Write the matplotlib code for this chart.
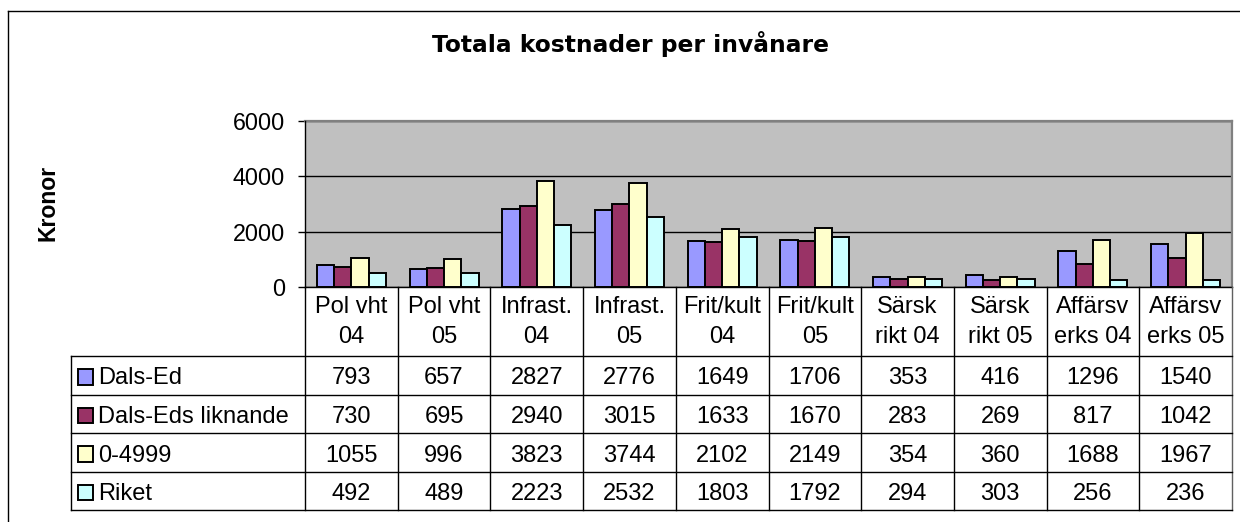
import matplotlib
matplotlib.use("Agg")
import matplotlib.pyplot as plt
import numpy as np
from matplotlib.patches import Rectangle
from matplotlib.lines import Line2D

plt.rcParams['font.family'] = ['Liberation Sans', 'DejaVu Sans']

title = "Totala kostnader per invånare"
ylabel = "Kronor"
categories = ["Pol vht\n04", "Pol vht\n05", "Infrast.\n04", "Infrast.\n05",
              "Frit/kult\n04", "Frit/kult\n05", "Särsk\nrikt 04", "Särsk\nrikt 05",
              "Affärsv\nerks 04", "Affärsv\nerks 05"]
series_names = ["Dals-Ed", "Dals-Eds liknande", "0-4999", "Riket"]
dals_ed = [793, 657, 2827, 2776, 1649, 1706, 353, 416, 1296, 1540]
dals_eds_liknande = [730, 695, 2940, 3015, 1633, 1670, 283, 269, 817, 1042]
kommuner_0_4999 = [1055, 996, 3823, 3744, 2102, 2149, 354, 360, 1688, 1967]
riket = [492, 489, 2223, 2532, 1803, 1792, 294, 303, 256, 236]
yticks = [0, 2000, 4000, 6000]

series = [dals_ed, dals_eds_liknande, kommuner_0_4999, riket]
colors = ['#9999FF', '#993366', '#FFFFCC', '#CCFFFF']

W, H = 1240, 522
fig = plt.figure(figsize=(W / 100, H / 100), dpi=100)
fig.patch.set_facecolor('white')

def fx(p):
    return p / W

def fy(p):
    return 1 - p / H

# plot area
PL, PR, PT, PB = 305, 1232, 121, 287
ax = fig.add_axes([fx(PL), fy(PB), (PR - PL) / W, (PB - PT) / H])
n = len(categories)
ax.set_xlim(-0.5, n - 0.5)
ax.set_ylim(0, 6000)
ax.set_facecolor('#C0C0C0')
x = np.arange(n)
w = 0.186
for j, (vals, col) in enumerate(zip(series, colors)):
    ax.bar(x + (j - 1.5) * w, vals, w, color=col, edgecolor='black',
           linewidth=1.4, zorder=3)
ax.set_yticks(yticks)
ax.set_yticklabels([str(t) for t in yticks])
ax.set_xticks([])
ax.yaxis.grid(True, color='black', linewidth=1.0)
ax.set_axisbelow(True)
ax.tick_params(axis='y', direction='out', length=5, width=1, labelsize=16.8,
               pad=9.4, colors='black')
for s in ['top', 'right']:
    ax.spines[s].set_color('#808080')
    ax.spines[s].set_linewidth(1.6)
for s in ['left', 'bottom']:
    ax.spines[s].set_color('black')
    ax.spines[s].set_linewidth(1.0)
    ax.spines[s].set_zorder(5)

# data table
TL, TB = 71, 510
u = (PR - PL) / n  # pixels per category
left_units = -0.5 - (PL - TL) / u
tax = fig.add_axes([fx(TL), fy(TB), (PR - TL) / W, (TB - PB) / H])
tax.set_xlim(left_units, n - 0.5)
tab_h = TB - PB
tax.set_ylim(tab_h, 0)
tax.axis('off')
header_h = 69
row_h = (tab_h - header_h) / len(series)
lc = 'black'
lw = 1.0
for i in range(n + 1):
    xe = i - 0.5
    tax.add_line(Line2D([xe, xe], [0, tab_h], color=('#606060' if i == n else lc),
                        lw=lw, clip_on=False))
tax.add_line(Line2D([left_units, left_units], [header_h, tab_h], color=lc, lw=lw, clip_on=False))
for k in range(len(series) + 1):
    yy = header_h + k * row_h
    tax.add_line(Line2D([left_units, n - 0.5], [yy, yy], color=lc, lw=lw, clip_on=False))

fs = 17.0
for i, cat in enumerate(categories):
    for l, line in enumerate(cat.split('\n')):
        tax.text(i, 26 + 30 * l, line, ha='center', va='baseline', fontsize=fs)

for k, (name, vals, col) in enumerate(zip(series_names, series, colors)):
    top = header_h + k * row_h
    tax.add_patch(Rectangle((left_units + 6.5 / u, top + 13), 15.5 / u, 15.5,
                            facecolor=col, edgecolor='black', lw=1.4, clip_on=False))
    tax.text(left_units + 27 / u, top + 28.5, name, ha='left', va='baseline', fontsize=fs)
    for i, v in enumerate(vals):
        tax.text(i, top + 28.5, str(v), ha='center', va='baseline', fontsize=fs)

# titles
fig.text(fx(631), fy(51.5), title, ha='center', va='baseline', fontsize=16.8,
         fontweight='bold', family='DejaVu Sans')
fig.text(fx(48), fy(203), ylabel, ha='center', va='center', fontsize=16.6,
         fontweight='bold', rotation=90)

# outer chart border (top and left)
fig.add_artist(Line2D([fx(7.5), 1.0], [fy(10.5), fy(10.5)], color='black', lw=1.0))
fig.add_artist(Line2D([fx(7.5), fx(7.5)], [fy(10.5), 0.0], color='black', lw=1.0))

fig.savefig('out.png', dpi=100)
